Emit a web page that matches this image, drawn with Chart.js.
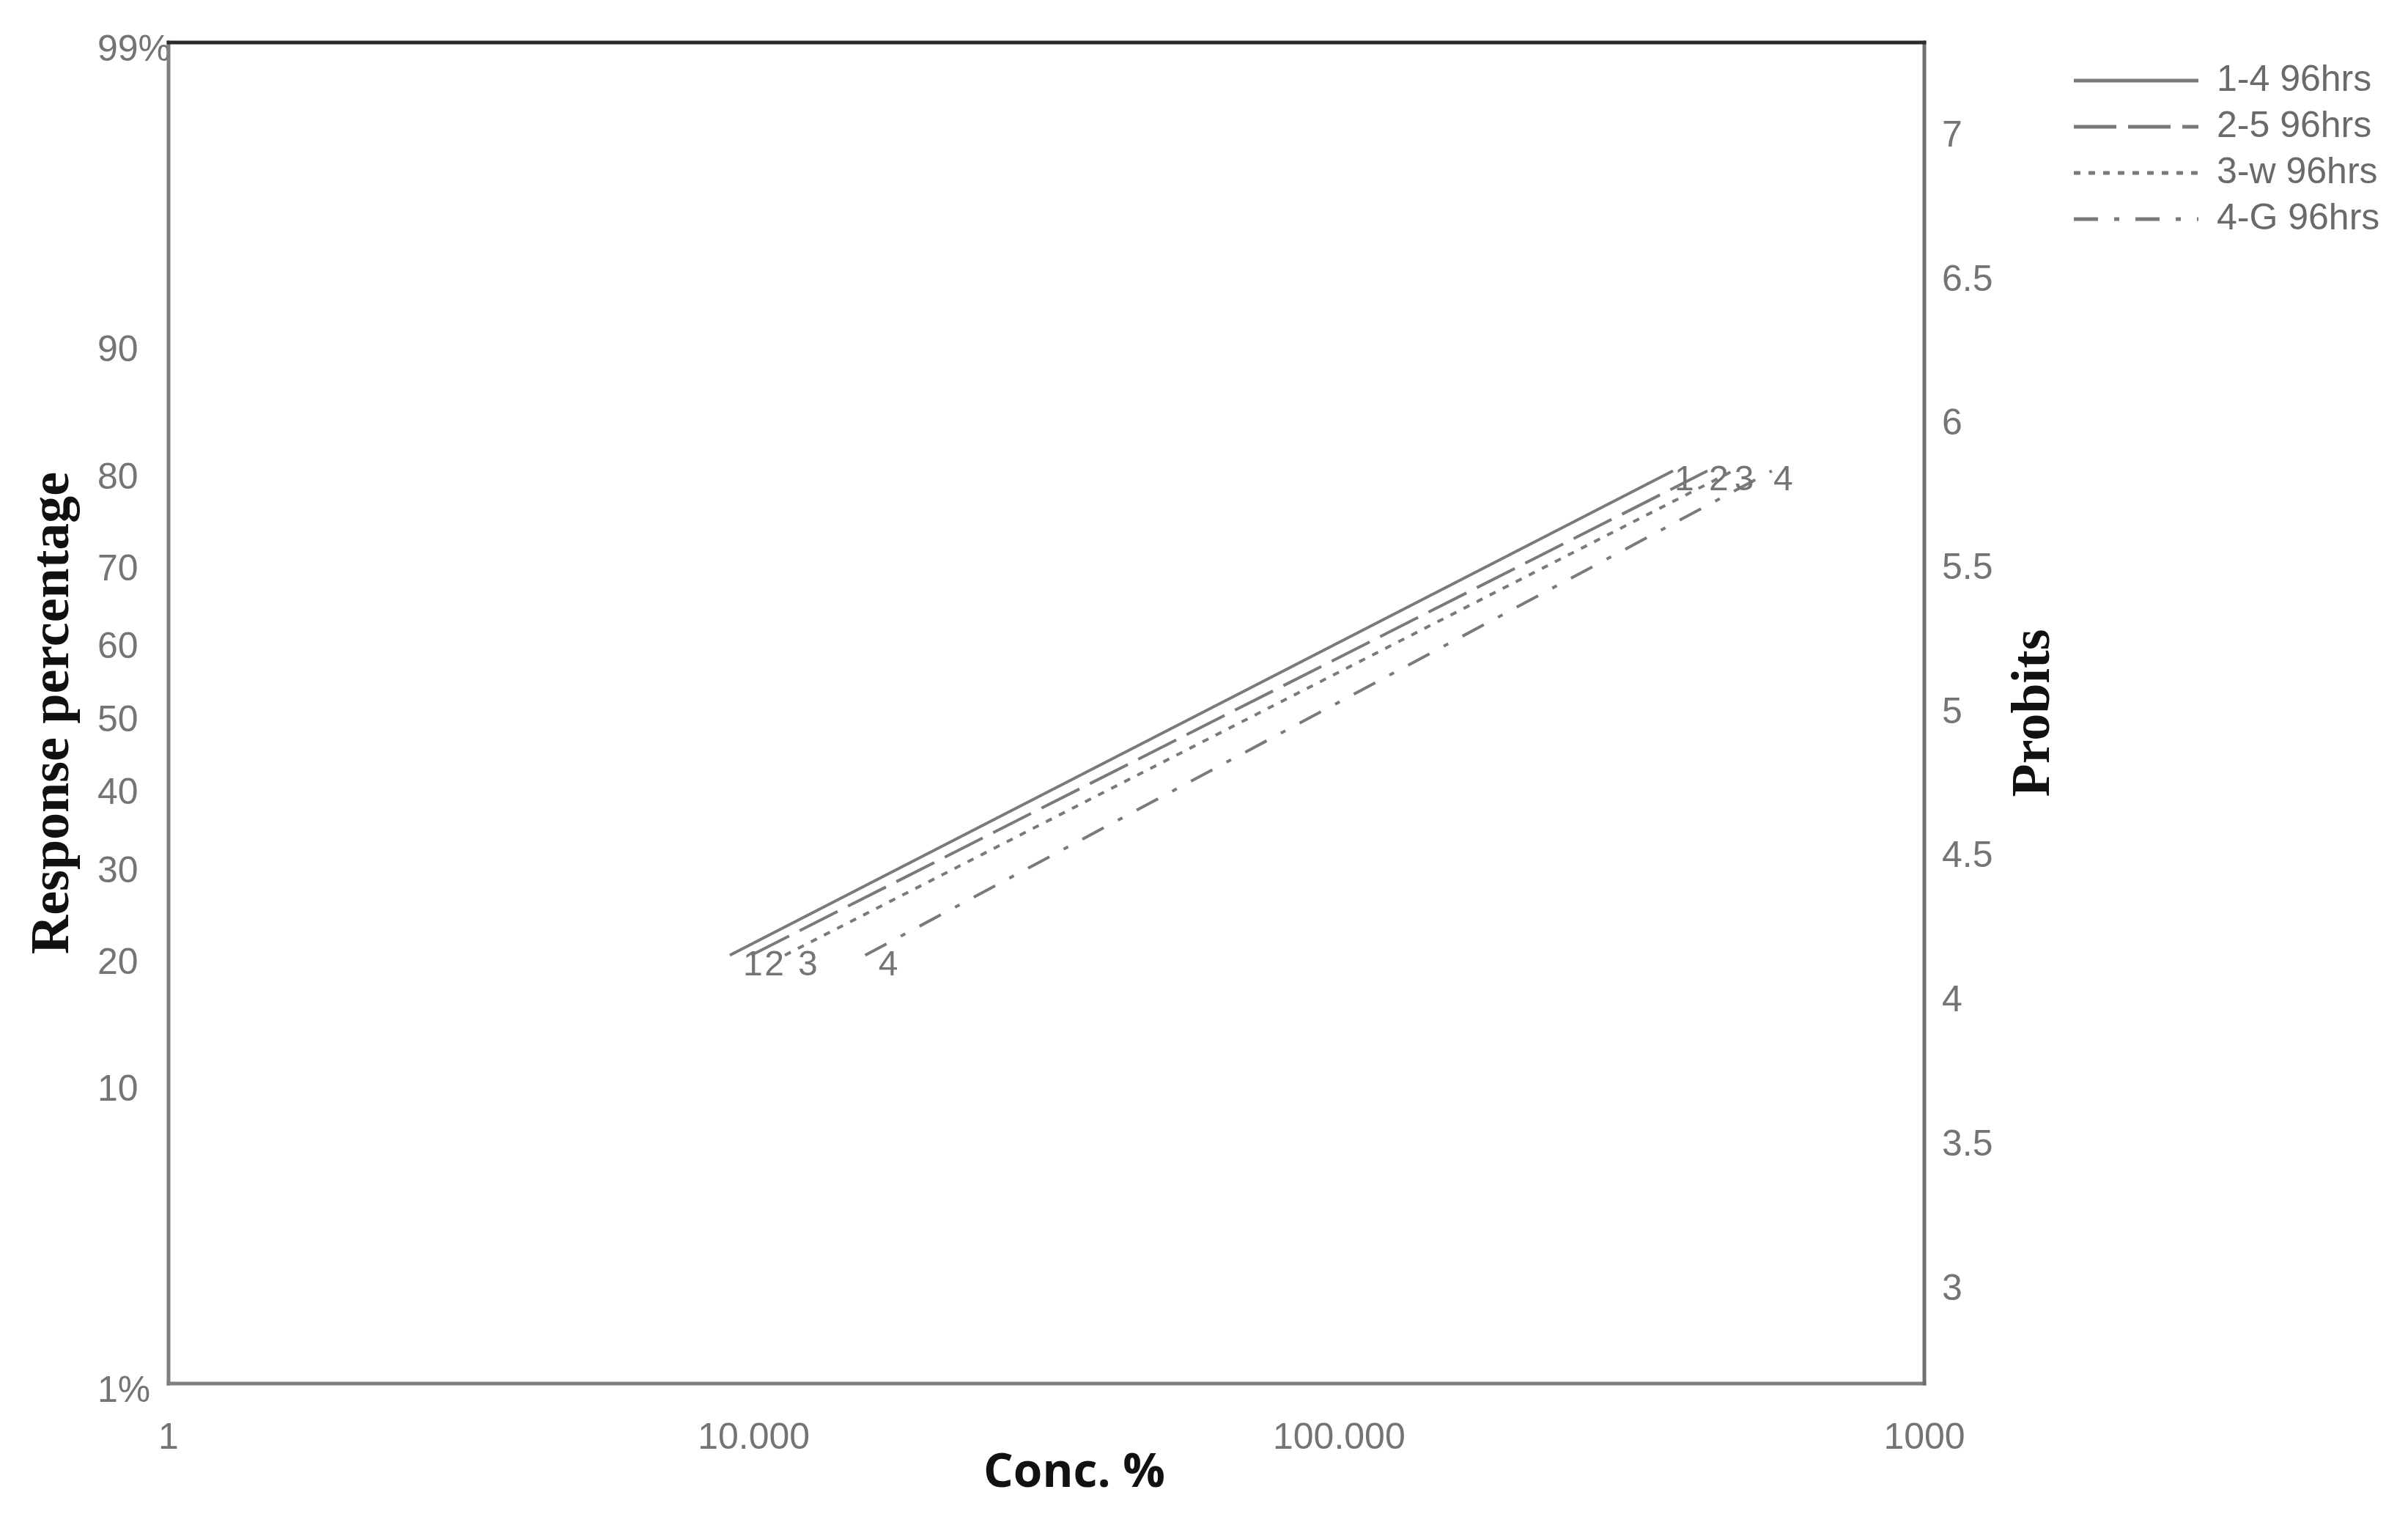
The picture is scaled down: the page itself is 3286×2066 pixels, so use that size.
<!DOCTYPE html>
<html>
<head>
<meta charset="utf-8">
<title>Probit plot - 96hrs</title>
<script src="https://cdn.jsdelivr.net/npm/chart.js@4.4.1/dist/chart.umd.min.js"></script>
<style>
  html, body { margin: 0; padding: 0; background: #fff; }
  #wrap { width: 3286px; height: 2066px; }
</style>
</head>
<body>
<div id="wrap"><canvas id="probitChart" width="3286" height="2066"></canvas></div>
<script>
// series names + short tags drawn at the line ends
const seriesNames = ["1-4 96hrs", "2-5 96hrs", "3-w 96hrs", "4-G 96hrs"];
const endTags = ["1", "2", "3", "4"];

// concentration (%) at both ends of every fitted line
const concLine1 = [9.1, 372];
const concLine2 = [9.9, 426];
const concLine3 = [11.3, 471];
const concLine4 = [15.5, 549];

// probit values (right axis) at the same ends
const probitLine1 = [4.16, 5.84];
const probitLine2 = [4.16, 5.84];
const probitLine3 = [4.16, 5.84];
const probitLine4 = [4.16, 5.84];

// axes
const xTicks = [1, 10, 100, 1000];
const xTickLabels = ["1", "10.000", "100.000", "1000"];
const pctTickLabels = ["1%", "10", "20", "30", "40", "50", "60", "70", "80", "90", "99%"];
const pctTickProbits = [2.674, 3.718, 4.158, 4.476, 4.747, 5.0, 5.253, 5.524, 5.842, 6.282, 7.326];
const probitTicks = [3, 3.5, 4, 4.5, 5, 5.5, 6, 6.5, 7];
const probitMin = 2.674;
const probitMax = 7.326;

const lineColor = "#7a7a7a";
const tickColor = "#747474";
const dashes = [[], [58, 16], [9, 11], [33, 22, 7, 22]];

Chart.defaults.font.family = "'Liberation Sans', Arial, sans-serif";

const toPoints = (xs, ys) => xs.map((x, i) => ({ x: x, y: ys[i] }));
const allConc = [concLine1, concLine2, concLine3, concLine4];
const allProbit = [probitLine1, probitLine2, probitLine3, probitLine4];

const datasets = seriesNames.map((name, i) => ({
  label: name,
  data: toPoints(allConc[i], allProbit[i]),
  showLine: true,
  borderColor: lineColor,
  backgroundColor: lineColor,
  borderWidth: 4,
  borderDash: dashes[i],
  pointRadius: 0,
  pointHoverRadius: 0,
  xAxisID: "x",
  yAxisID: "y",
}));

// box round the plot area, top edge darker like the original
const framePlugin = {
  id: "frame",
  beforeDatasetsDraw(chart) {
    const { ctx, chartArea: a } = chart;
    ctx.save();
    ctx.lineWidth = 5;
    ctx.lineCap = "square";
    const seg = (x1, y1, x2, y2, c) => {
      ctx.strokeStyle = c;
      ctx.beginPath();
      ctx.moveTo(x1, y1);
      ctx.lineTo(x2, y2);
      ctx.stroke();
    };
    seg(a.left, a.bottom, a.right, a.bottom, "#7f7f7f");
    seg(a.left, a.top, a.left, a.bottom, "#7f7f7f");
    seg(a.right, a.top, a.right, a.bottom, "#707070");
    seg(a.left, a.top, a.right, a.top, "#2b2b2b");
    ctx.restore();
  },
};

// numbers 1..4 at the start and end of each line
const endTagPlugin = {
  id: "endTags",
  afterDatasetsDraw(chart) {
    const { ctx } = chart;
    ctx.save();
    ctx.font = "48px 'Liberation Sans', Arial, sans-serif";
    ctx.fillStyle = tickColor;
    ctx.textAlign = "left";
    ctx.textBaseline = "middle";
    chart.data.datasets.forEach((ds, i) => {
      const pts = chart.getDatasetMeta(i).data;
      const first = pts[0];
      const last = pts[pts.length - 1];
      ctx.fillText(endTags[i], first.x + 18, first.y + 14);
      ctx.fillText(endTags[i], last.x + 2, last.y + 13);
    });
    ctx.restore();
  },
};

// axis titles that sit off the usual Chart.js spots
const axisTitlePlugin = {
  id: "axisTitles",
  afterDraw(chart) {
    const { ctx } = chart;
    const s = chart.scales.y2;
    const sx = chart.scales.x;
    ctx.save();
    ctx.fillStyle = "#111";
    ctx.textAlign = "center";
    ctx.textBaseline = "middle";

    // "Probits" reads bottom to top on the right
    ctx.save();
    ctx.translate(s.right - 40, (s.top + s.bottom) / 2);
    ctx.rotate(-Math.PI / 2);
    ctx.font = "bold 74px 'Liberation Serif', 'Times New Roman', serif";
    ctx.fillText("Probits", 0, 0);
    ctx.restore();

    // x title, a bit right of centre as in the original
    ctx.font = "bold 64px 'Open Sans', sans-serif";
    ctx.fillText("Conc. %", (sx.left + sx.right) / 2 + 38, sx.bottom - 55);
    ctx.restore();
  },
};

const noGrid = { display: false, drawTicks: false };
const noBorder = { display: false };
const tickFont = { size: 50 };

new Chart(document.getElementById("probitChart"), {
  type: "scatter",
  data: { datasets: datasets },
  plugins: [framePlugin, endTagPlugin, axisTitlePlugin],
  options: {
    responsive: false,
    devicePixelRatio: 1,
    animation: false,
    layout: { padding: { top: 58, right: 29, bottom: 0, left: 0 } },
    plugins: {
      tooltip: { enabled: false },
      legend: {
        position: "right",
        align: "start",
        maxWidth: 440,
        title: { display: true, text: " ", font: { size: 10 }, padding: { top: 2, bottom: 0 } },
        labels: {
          usePointStyle: true,
          pointStyleWidth: 170,
          boxHeight: 20,
          padding: 13,
          font: { size: 50 },
          color: "#6a6a6a",
          generateLabels: (chart) =>
            chart.data.datasets.map((ds, i) => ({
              text: ds.label,
              fillStyle: "rgba(0,0,0,0)",
              strokeStyle: ds.borderColor,
              lineWidth: 5,
              lineDash: ds.borderDash,
              pointStyle: "line",
              fontColor: "#6a6a6a",
              hidden: false,
              datasetIndex: i,
            })),
        },
      },
    },
    scales: {
      x: {
        type: "logarithmic",
        position: "bottom",
        min: 1,
        max: 1000,
        afterBuildTicks: (s) => {
          s.ticks = xTicks.map((v) => ({ value: v }));
        },
        afterFit: (s) => {
          s.height = 178;
        },
        ticks: {
          callback: (v, i) => xTickLabels[i],
          autoSkip: false,
          maxRotation: 0,
          padding: 45,
          color: tickColor,
          font: tickFont,
        },
        grid: noGrid,
        border: noBorder,
      },
      yTitle: {
        type: "linear",
        position: "left",
        weight: 5,
        min: probitMin,
        max: probitMax,
        afterFit: (s) => {
          s.width = 133;
        },
        ticks: { display: false },
        grid: noGrid,
        border: noBorder,
        title: {
          display: true,
          text: "Response percentage",
          color: "#111",
          font: { family: "'Liberation Serif', 'Times New Roman', serif", size: 74, weight: "bold" },
          padding: { top: 29, bottom: 0 },
        },
      },
      y: {
        type: "linear",
        position: "left",
        weight: 1,
        min: probitMin,
        max: probitMax,
        afterBuildTicks: (s) => {
          s.ticks = pctTickProbits.map((v) => ({ value: v }));
        },
        afterFit: (s) => {
          s.width = 97;
        },
        ticks: {
          callback: (v, i) => pctTickLabels[i],
          autoSkip: false,
          crossAlign: "far",
          labelOffset: 11,
          color: tickColor,
          font: tickFont,
        },
        grid: noGrid,
        border: noBorder,
      },
      y2: {
        type: "linear",
        position: "right",
        min: probitMin,
        max: probitMax,
        afterBuildTicks: (s) => {
          s.ticks = probitTicks.map((v) => ({ value: v }));
        },
        afterFit: (s) => {
          s.width = 191;
        },
        ticks: {
          callback: (v) => String(v),
          autoSkip: false,
          padding: 24,
          color: tickColor,
          font: tickFont,
        },
        grid: noGrid,
        border: noBorder,
      },
    },
  },
});
</script>
</body>
</html>
